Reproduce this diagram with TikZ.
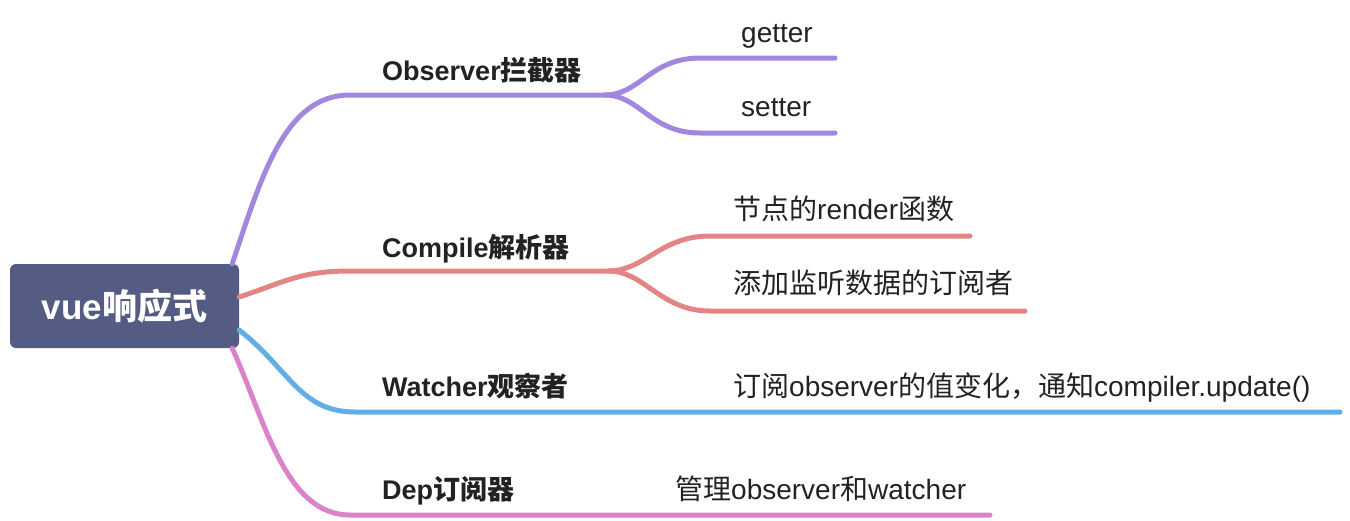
\documentclass[tikz,border=0pt]{standalone}
\usepackage{fontspec}
\setmainfont{Liberation Sans}
\newfontfamily\cjkfont{Noto Sans CJK SC}
\newcommand\zhtxt[1]{{\cjkfont #1}}
\definecolor{rootc}{HTML}{555C84}
\definecolor{purp}{HTML}{A187DE}
\definecolor{redc}{HTML}{E48585}
\definecolor{bluec}{HTML}{62AEE6}
\definecolor{pinkc}{HTML}{DA83CB}
\definecolor{txt}{HTML}{222222}
\tikzset{
  br/.style={line width=5pt, line cap=round},
  topic/.style={anchor=base west, inner sep=0pt, font=\fontsize{27}{32}\selectfont\bfseries, text=txt},
  sub/.style={anchor=base west, inner sep=0pt, font=\fontsize{28}{32}\selectfont, text=txt},
}
\begin{document}
\begin{tikzpicture}[x=1pt,y=-1pt]
\useasboundingbox (0,0) rectangle (1350,520);
\node[fill=rootc, rounded corners=6pt, minimum width=229pt, minimum height=84pt, inner sep=0pt,
  text=white, font=\fontsize{35}{40}\selectfont\bfseries] (root) at (124.5,306) {vue\zhtxt{响应式}};

% topics
\node[topic] (obs) at (382,80) {Observer\zhtxt{拦截器}};
\node[topic] (cmp) at (382,257) {Compile\zhtxt{解析器}};
\node[topic] (wat) at (382,396) {Watcher\zhtxt{观察者}};
\node[topic] (dep) at (382,499) {Dep\zhtxt{订阅器}};

% subtopics
\node[sub] (get) at (741,42) {getter};
\node[sub] (set) at (741,116) {setter};
\node[sub] (rnd) at (733,219) {\zhtxt{节点的}render\zhtxt{函数}};
\node[sub] (add) at (733,293) {\zhtxt{添加监听数据的订阅者}};
\node[sub] (sbs) at (733,396) {\zhtxt{订阅}observer\zhtxt{的值变化，通知}compiler.update()};
\node[sub] (mgr) at (675,499) {\zhtxt{管理}observer\zhtxt{和}watcher};

% coordinates
\coordinate (of) at (605,95);
\coordinate (ge) at (835,58);
\coordinate (se) at (835,133);
\coordinate (cf) at (608,271);
\coordinate (re) at (970,236);
\coordinate (ae) at (1025,311);
\coordinate (we) at (1340,412);
\coordinate (de) at (990,515);

% purple
\draw[br, purp] ([xshift=-7pt]root.north east) .. controls (262,175) and (285,95) .. (350,95) -- (of);
\draw[br, purp] (of) .. controls (640,95) and (650,58) .. (700,58) -- (ge);
\draw[br, purp] (of) .. controls (640,95) and (650,133) .. (700,133) -- (se);
% red
\draw[br, redc] ([yshift=9pt]root.east) .. controls (285,282) and (300,271) .. (350,271) -- (cf);
\draw[br, redc] (cf) .. controls (645,271) and (660,236) .. (710,236) -- (re);
\draw[br, redc] (cf) .. controls (645,271) and (660,311) .. (710,311) -- (ae);
% blue
\draw[br, bluec] ([yshift=-24pt]root.east) .. controls (290,370) and (300,412) .. (355,412) -- (we);
% pink
\draw[br, pinkc] ([xshift=-7pt]root.south east) .. controls (265,420) and (285,515) .. (350,515) -- (de);
\end{tikzpicture}
\end{document}
